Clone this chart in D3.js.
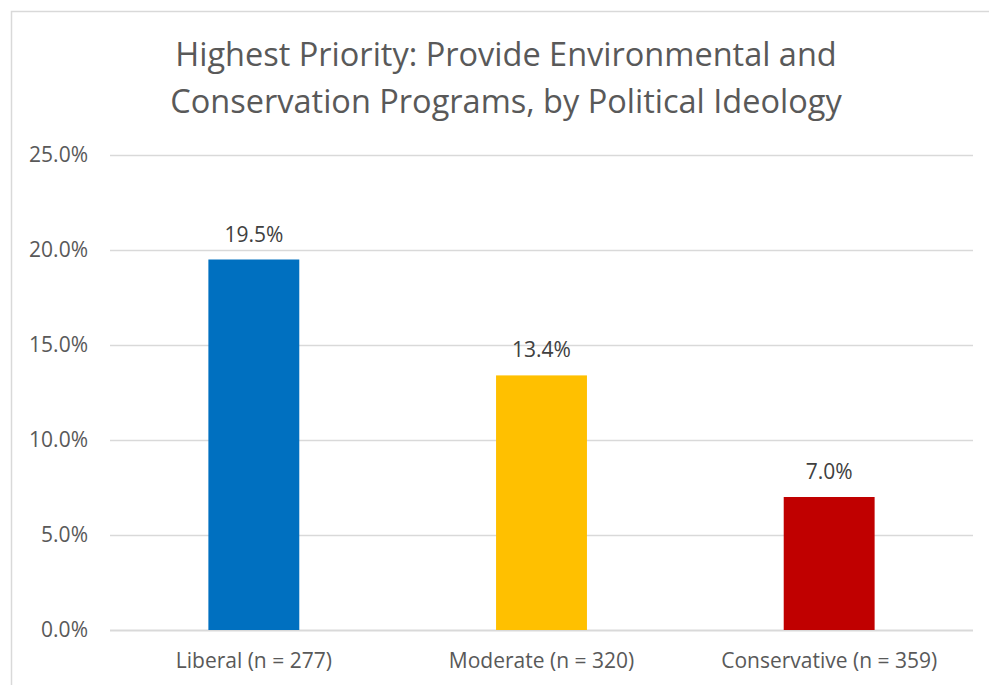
<!DOCTYPE html>
<html>
<head>
<meta charset="utf-8">
<script src="https://cdn.jsdelivr.net/npm/d3@7"></script>
<style>
  body { margin: 0; background: #fff; }
  svg { display: block; font-family: "Open Sans", sans-serif; }
</style>
</head>
<body>
<svg id="chart" width="989" height="685"></svg>
<script>
// chart data
var categories = ["Liberal (n = 277)", "Moderate (n = 320)", "Conservative (n = 359)"]
var values = [19.5, 13.4, 7.0]
var barColours = ["#0070C0", "#FFC000", "#C00000"]
var yTicks = [0, 5, 10, 15, 20, 25]
var titleLines = ["Highest Priority: Provide Environmental and", "Conservation Programs, by Political Ideology"]

var svg = d3.select("#chart")
var textCol = "#595959", gridCol = "#d9d9d9"

// outer border (runs off the right/bottom edge in the original)
svg.append("rect")
  .attr("x", 11.5).attr("y", 11.5)
  .attr("width", 1000).attr("height", 700)
  .attr("fill", "#fff").attr("stroke", gridCol).attr("stroke-width", 1.5)

var plot = {left: 110, right: 973, top: 155, bottom: 630}

var x = d3.scaleBand()
  .domain(categories)
  .range([plot.left, plot.right])
  .paddingInner(0.684).paddingOuter(0.342)

var y = d3.scaleLinear().domain([0, 25]).range([plot.bottom, plot.top])

// title
svg.append("text")
  .attr("x", 506).attr("y", 66)
  .attr("text-anchor", "middle")
  .attr("fill", textCol)
  .style("font-size", "32.5px")
  .selectAll("tspan")
  .data(titleLines)
  .enter().append("tspan")
  .attr("x", 506)
  .attr("dy", function(d, i) { return i == 0 ? 0 : 47 })
  .text(function(d) { return d })

// gridlines
svg.append("g")
  .selectAll("line")
  .data(yTicks)
  .enter().append("line")
  .attr("x1", plot.left).attr("x2", plot.right)
  .attr("y1", function(d) { return Math.round(y(d)) + 0.5 })
  .attr("y2", function(d) { return Math.round(y(d)) + 0.5 })
  .attr("stroke", gridCol)
  .attr("stroke-width", function(d) { return d == 0 ? 2 : 1.3 })

// y axis labels
var yAxis = d3.axisLeft(y).tickValues(yTicks).tickSize(0).tickPadding(0)
  .tickFormat(function(d) { return d.toFixed(1) + "%" })
svg.append("g")
  .attr("transform", "translate(88,0)")
  .call(yAxis)
  .call(function(g) { g.select(".domain").remove() })
  .selectAll("text")
  .attr("fill", textCol)
  .style("font-size", "21px")
  .style("font-family", "'Open Sans', sans-serif")

// bars
svg.append("g")
  .selectAll("rect")
  .data(values)
  .enter().append("rect")
  .attr("x", function(d, i) { return x(categories[i]) })
  .attr("width", x.bandwidth())
  .attr("y", function(d) { return y(d) })
  .attr("height", function(d) { return y(0) - y(d) })
  .attr("fill", function(d, i) { return barColours[i] })

// data labels
svg.append("g")
  .selectAll("text")
  .data(values)
  .enter().append("text")
  .attr("x", function(d, i) { return x(categories[i]) + x.bandwidth() / 2 })
  .attr("y", function(d) { return y(d) - 18 })
  .attr("text-anchor", "middle")
  .attr("fill", "#404040")
  .style("font-size", "21px")
  .text(function(d) { return d.toFixed(1) + "%" })

// x axis labels
var xAxis = d3.axisBottom(x).tickSize(0).tickPadding(0)
svg.append("g")
  .attr("transform", "translate(0," + plot.bottom + ")")
  .call(xAxis)
  .call(function(g) { g.select(".domain").remove() })
  .selectAll("text")
  .attr("dy", 0).attr("y", 38)
  .attr("fill", textCol)
  .style("font-size", "21px")
  .style("font-family", "'Open Sans', sans-serif")
</script>
</body>
</html>
